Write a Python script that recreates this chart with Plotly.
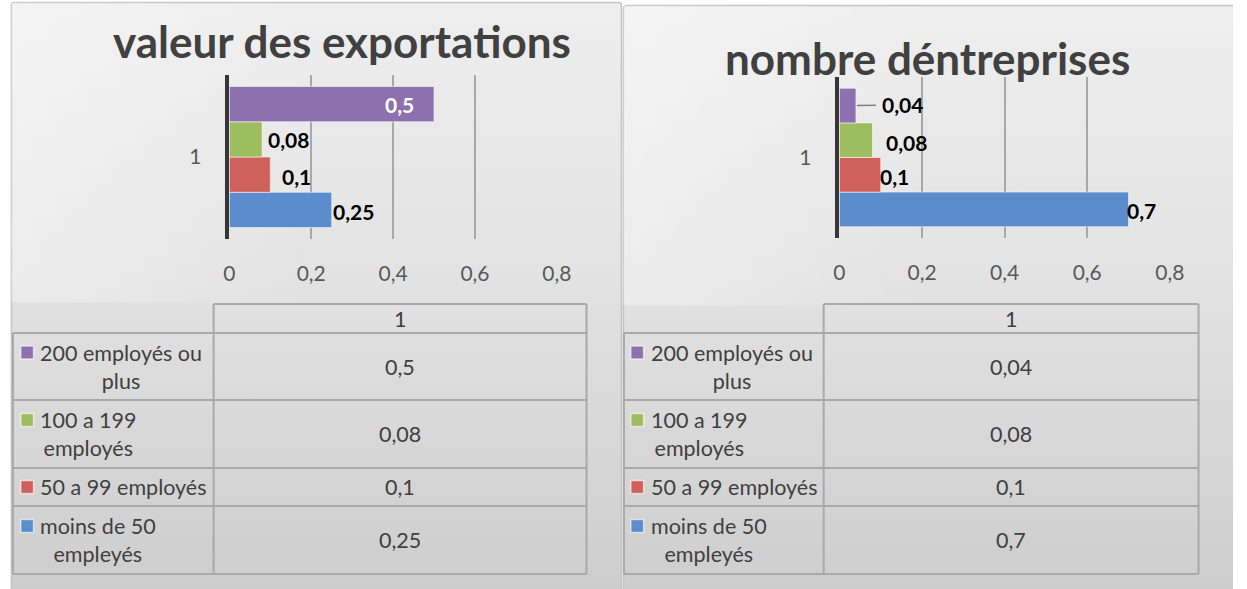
import base64
import plotly.graph_objects as go

W, H = 1247, 589
FONT = "Lato"

# ---- data -------------------------------------------------------------
CATEGORY = ["1"]
SERIES = [
    "moins de 50<br>empleyés",
    "50 a 99 employés",
    "100 a 199<br>employés",
    "200 employés ou<br>plus",
]
EXPORT_VALUES = [0.25, 0.1, 0.08, 0.5]
FIRM_VALUES = [0.7, 0.1, 0.08, 0.04]
X_TICKS = [0, 0.2, 0.4, 0.6, 0.8]
TITLES = ["valeur des exportations", "nombre déntreprises"]

# ---- styles -----------------------------------------------------------
COLORS = ["#5b8ccb", "#cf605c", "#9dbd60", "#8c71ae"]
BARGAP = 0.14
TABLE_FONT = 21.5
LABEL_FONT = 21


def fmt(v):
    return f"{v:g}".replace(".", ",")


def px(x):
    return x / W


def py(y):
    return 1 - y / H


# panel geometry (pixels)
PANELS = [
    dict(values=EXPORT_VALUES, title=TITLES[0], title_xy=(341, 41),
         xdom=(227, 560), ydom=(75, 239),
         cols=(7, 211, 590), text_x=33, key_x=15,
         labels=[("left", -1, -1.5, "black"), ("left", 10, -2, "black"),
                 ("left", 4, 0, "black"), ("right", -18, 0, "white")],
         leader=None),
    dict(values=FIRM_VALUES, title=TITLES[1], title_xy=(937, 58),
         xdom=(847, 1183), ydom=(77, 238),
         cols=(628, 831, 1212), text_x=653, key_x=635,
         labels=[("left", -4, -1.5, "black"), ("left", -3, -2, "black"),
                 ("left", 12, -2, "black"), None],
         leader=3),
]
ROWS = [304, 333, 400, 468, 506, 574]

# ---- background panels (gradient) --------------------------------------
svg = f"""<svg xmlns="http://www.w3.org/2000/svg" width="{W}" height="{H}" viewBox="0 0 {W} {H}" preserveAspectRatio="none">
<defs>
<linearGradient id="g" x1="0" y1="0" x2="0" y2="1">
<stop offset="0" stop-color="#eeeeee"/>
<stop offset="0.45" stop-color="#e3e3e3"/>
<stop offset="1" stop-color="#cdcdcd"/>
</linearGradient>
<linearGradient id="h" x1="0" y1="0" x2="1" y2="0">
<stop offset="0" stop-color="#ffffff" stop-opacity="0.35"/>
<stop offset="0.5" stop-color="#ffffff" stop-opacity="0"/>
</linearGradient>
</defs>
<rect x="0" y="0" width="{W}" height="{H}" fill="#ffffff"/>
<rect x="5.5" y="2.5" width="620" height="590" rx="3" fill="url(#g)" stroke="#c2c2c2" stroke-width="1.5"/>
<rect x="5.5" y="2.5" width="620" height="300" fill="url(#h)"/>
<rect x="627.5" y="5.5" width="622" height="590" rx="3" fill="url(#g)" stroke="#c2c2c2" stroke-width="1.5"/>
<rect x="627.5" y="5.5" width="622" height="300" fill="url(#h)"/>
</svg>"""
bg_src = "data:image/svg+xml;base64," + base64.b64encode(svg.encode("utf-8")).decode()

fig = go.Figure()
annotations = []
shapes = []

gw = 1 - BARGAP
bw = gw / len(SERIES)
centers = [-gw / 2 + bw * (i + 0.5) for i in range(len(SERIES))]

for k, p in enumerate(PANELS):
    sfx = "" if k == 0 else str(k + 1)
    xa, ya = "x" + sfx, "y" + sfx

    for i, (name, val, col) in enumerate(zip(SERIES, p["values"], COLORS)):
        fig.add_trace(go.Bar(
            x=[val], y=CATEGORY, orientation="h", name=name.replace("<br>", " "),
            marker=dict(color=col, line=dict(color="rgba(255,255,255,0.55)", width=1)),
            xaxis=xa, yaxis=ya, showlegend=False, hoverinfo="skip",
        ))
        spec = p["labels"][i]
        if spec is not None:
            anchor, dx, dy, tcol = spec
            annotations.append(dict(
                xref=xa, yref=ya, x=val, y=centers[i], text=fmt(val),
                xanchor=anchor, yanchor="middle", xshift=dx, yshift=dy,
                showarrow=False,
                font=dict(family=FONT, size=LABEL_FONT, color=tcol, weight="bold"),
            ))
    if p["leader"] is not None:
        i = p["leader"]
        val = p["values"][i]
        annotations.append(dict(
            xref=xa, yref=ya, x=val, y=centers[i], text=fmt(val),
            showarrow=True, arrowhead=0, arrowwidth=1.5, arrowcolor="#808080",
            ax=47, ay=-1, standoff=1, borderpad=6,
            font=dict(family=FONT, size=LABEL_FONT, color="black", weight="bold"),
        ))

    axis_common = dict(fixedrange=True)
    fig.update_layout(**{
        "xaxis" + sfx: dict(
            domain=[px(p["xdom"][0]), px(p["xdom"][1])], range=[0, 0.8005],
            anchor=ya, tickvals=X_TICKS, ticktext=[fmt(t) for t in X_TICKS],
            showgrid=True, gridcolor="#a8a8a8", gridwidth=1.5, zeroline=False,
            showline=False, ticks="outside", ticklen=16, tickcolor="rgba(0,0,0,0)",
            tickfont=dict(family=FONT, size=21, color="#595959"), **axis_common),
        "yaxis" + sfx: dict(
            domain=[py(p["ydom"][1]), py(p["ydom"][0])], type="category",
            anchor=xa, showgrid=False, zeroline=False,
            showline=True, linecolor="#363636", linewidth=3.5,
            ticks="outside", ticklen=20, tickcolor="rgba(0,0,0,0)",
            tickfont=dict(family=FONT, size=21, color="#595959"), **axis_common),
    })

    # chart title
    tx, ty = p["title_xy"]
    annotations.append(dict(
        xref="paper", yref="paper", x=px(tx), y=py(ty), text=p["title"],
        xanchor="center", yanchor="middle", showarrow=False,
        font=dict(family=FONT, size=44, color="#404040", weight="bold"),
    ))

    # data table
    c0, c1, c2 = p["cols"]
    line = dict(color="#a9a9a9", width=2)

    def seg(x0, y0, x1, y1):
        shapes.append(dict(type="line", xref="paper", yref="paper",
                           x0=px(x0), y0=py(y0), x1=px(x1), y1=py(y1), line=line))

    seg(c1, ROWS[0], c2, ROWS[0])
    for r in ROWS[1:]:
        seg(c0, r, c2, r)
    seg(c0, ROWS[1], c0, ROWS[-1])
    seg(c1, ROWS[0], c1, ROWS[-1])
    seg(c2, ROWS[0], c2, ROWS[-1])

    annotations.append(dict(
        xref="paper", yref="paper", x=px((c1 + c2) / 2), y=py((ROWS[0] + ROWS[1]) / 2),
        text=CATEGORY[0], showarrow=False, xanchor="center", yanchor="middle",
        font=dict(family=FONT, size=TABLE_FONT, color="#404040"),
    ))

    # table rows: top row is the last series
    order = list(range(len(SERIES)))[::-1]
    lh = 1.3 * TABLE_FONT
    for r, i in enumerate(order):
        yc = (ROWS[r + 1] + ROWS[r + 2]) / 2
        annotations.append(dict(
            xref="paper", yref="paper", x=px((c1 + c2) / 2), y=py(yc),
            text=fmt(p["values"][i]), showarrow=False, xanchor="center", yanchor="middle",
            font=dict(family=FONT, size=TABLE_FONT, color="#404040"),
        ))
        annotations.append(dict(
            xref="paper", yref="paper", x=px(p["text_x"]), y=py(yc),
            text=SERIES[i], showarrow=False, xanchor="left", yanchor="middle", align="center",
            font=dict(family=FONT, size=TABLE_FONT, color="#404040"),
        ))
        nlines = SERIES[i].count("<br>") + 1
        ky = yc - (nlines - 1) * lh / 2
        kx = p["key_x"]
        shapes.append(dict(
            type="rect", xref="paper", yref="paper",
            x0=px(kx), x1=px(kx + 13), y0=py(ky - 6.5), y1=py(ky + 6.5),
            fillcolor=COLORS[i], line=dict(color="rgba(255,255,255,0.6)", width=1.5),
        ))

fig.update_layout(
    width=W, height=H, margin=dict(l=0, r=0, t=0, b=0),
    paper_bgcolor="white", plot_bgcolor="rgba(0,0,0,0)",
    barmode="group", bargap=BARGAP, bargroupgap=0,
    annotations=annotations, shapes=shapes,
    images=[dict(source=bg_src, xref="paper", yref="paper", x=0, y=1, sizex=1, sizey=1,
                 xanchor="left", yanchor="top", sizing="stretch", layer="below")],
    font=dict(family=FONT),
)

fig.write_html("out.html", config={"displayModeBar": False})
